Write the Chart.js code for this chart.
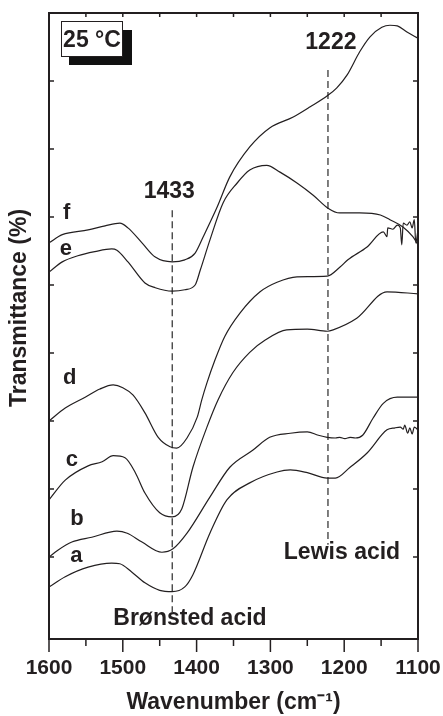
<!DOCTYPE html>
<html>
<head>
<meta charset="utf-8">
<script src="https://cdn.jsdelivr.net/npm/chart.js@4.4.0/dist/chart.umd.min.js"></script>
<style>
html, body { margin: 0; padding: 0; background: #fff; }
canvas { display: block; }
</style>
</head>
<body>
<canvas id="chart" width="443" height="716"></canvas>
<script>
// spectra, [wavenumber, transmittance (arbitrary units, offset per sample)]
var curveA = [[1600,0.56],[1578,0.71],[1547,0.85],[1515,0.91],[1504,0.90],[1488,0.78],[1470,0.62],[1450,0.51],[1433,0.49],[1416,0.56],[1405,0.74],[1382,1.35],[1359,1.84],[1328,2.09],[1291,2.25],[1273,2.28],[1250,2.24],[1223,2.16],[1212,2.16],[1192,2.32],[1169,2.53],[1142,2.87],[1131,2.90],[1124,2.91],[1120,2.88],[1118,2.94],[1114,2.82],[1111,2.90],[1108,2.81],[1105,2.91],[1100,2.87]];
var curveB = [[1600,1.00],[1588,1.10],[1569,1.22],[1542,1.29],[1508,1.38],[1494,1.35],[1474,1.22],[1447,1.07],[1432,1.12],[1413,1.35],[1382,1.88],[1355,2.32],[1324,2.57],[1301,2.76],[1273,2.82],[1250,2.84],[1235,2.79],[1223,2.76],[1212,2.75],[1206,2.76],[1199,2.74],[1192,2.76],[1185,2.75],[1175,2.79],[1161,3.04],[1147,3.26],[1128,3.35],[1100,3.35]];
var curveC = [[1600,1.84],[1578,2.13],[1547,2.34],[1528,2.40],[1513,2.49],[1497,2.46],[1483,2.24],[1470,1.94],[1450,1.65],[1433,1.59],[1420,1.71],[1405,2.32],[1386,2.91],[1371,3.31],[1351,3.71],[1328,4.01],[1307,4.19],[1278,4.34],[1250,4.35],[1223,4.32],[1215,4.34],[1183,4.51],[1142,4.90],[1100,4.87]];
var curveD = [[1600,3.00],[1578,3.19],[1551,3.35],[1531,3.47],[1513,3.53],[1500,3.49],[1486,3.38],[1470,3.12],[1452,2.76],[1436,2.62],[1427,2.60],[1413,2.75],[1399,3.06],[1393,3.31],[1386,3.56],[1375,3.90],[1362,4.24],[1341,4.59],[1314,4.90],[1291,5.04],[1264,5.12],[1223,5.13],[1206,5.26],[1195,5.37],[1169,5.56],[1147,5.78],[1142,5.71],[1141,5.84],[1134,5.82],[1128,5.88],[1124,5.84],[1122,5.59],[1120,5.91],[1115,5.88],[1111,5.93],[1108,5.84],[1105,5.96],[1103,5.62],[1100,5.81]];
var curveE = [[1600,5.19],[1582,5.34],[1561,5.43],[1538,5.49],[1515,5.53],[1508,5.51],[1493,5.34],[1470,5.03],[1456,4.96],[1433,4.91],[1416,4.93],[1402,5.00],[1395,5.22],[1382,5.66],[1364,6.21],[1345,6.50],[1328,6.69],[1305,6.76],[1287,6.66],[1264,6.50],[1242,6.32],[1222,6.13],[1206,6.06],[1179,6.06],[1151,6.03],[1138,5.96],[1120,5.85],[1107,5.71],[1100,5.59]];
var curveF = [[1600,5.62],[1582,5.74],[1547,5.81],[1524,5.87],[1504,5.91],[1493,5.84],[1474,5.62],[1456,5.41],[1433,5.34],[1416,5.37],[1402,5.47],[1391,5.71],[1372,6.15],[1355,6.59],[1328,7.03],[1301,7.31],[1269,7.47],[1246,7.62],[1222,7.79],[1210,7.90],[1196,8.09],[1179,8.43],[1165,8.65],[1149,8.79],[1138,8.82],[1128,8.81],[1115,8.72],[1100,8.63]];

// band markers
var bronstedLine = [[1433,6.10],[1433,0.19]];
var lewisLine = [[1222,8.16],[1222,1.18]];

// labels: text, wavenumber, level
var curveLabels = [['a',1563,1.01],['b',1562,1.56],['c',1569,2.43],['d',1572,3.63],['e',1577,5.53],['f',1576,6.06]];
var notes = [['1433',1437,6.38],['1222',1218,8.56],['Lewis acid',1203,1.06],['Brønsted acid',1409,0.10]];

var ink = '#231f20';
var family = '"Liberation Sans", Arial, sans-serif';

function toXY(points) {
	return points.map(function (p) { return {x: p[0], y: p[1]}; });
}

var datasets = [curveA, curveB, curveC, curveD, curveE, curveF].map(function (c) {
	return {
		data: toXY(c),
		borderColor: ink,
		borderWidth: 1.2,
		pointRadius: 0,
		cubicInterpolationMode: 'monotone',
		fill: false
	};
});
[bronstedLine, lewisLine].forEach(function (l) {
	datasets.push({
		data: toXY(l),
		borderColor: '#3a3a3a',
		borderWidth: 1.3,
		borderDash: [7, 4],
		pointRadius: 0,
		fill: false
	});
});

function stroke(ctx, x1, y1, x2, y2) {
	ctx.beginPath();
	ctx.moveTo(x1, y1);
	ctx.lineTo(x2, y2);
	ctx.stroke();
}

var decor = {
	id: 'decor',
	afterDatasetsDraw: function (chart) {
		var ctx = chart.ctx, a = chart.chartArea;
		var xs = chart.scales.x, ys = chart.scales.y;
		ctx.save();

		// frame
		ctx.strokeStyle = ink;
		ctx.lineWidth = 2;
		ctx.strokeRect(a.left, a.top, a.right - a.left, a.bottom - a.top);

		// tick marks
		ctx.lineWidth = 1.5;
		xs.ticks.forEach(function (t) {
			var px = xs.getPixelForValue(t.value);
			stroke(ctx, px, a.bottom, px, a.bottom + (t.value % 100 === 0 ? 13 : 7));
			stroke(ctx, px, a.top, px, a.top + 4);
		});
		ys.ticks.forEach(function (t) {
			var py = ys.getPixelForValue(t.value);
			stroke(ctx, a.left, py, a.left + 5, py);
			stroke(ctx, a.right, py, a.right - 5, py);
		});

		// texts
		ctx.fillStyle = ink;
		ctx.textAlign = 'center';
		ctx.textBaseline = 'middle';
		ctx.font = 'bold 22px ' + family;
		curveLabels.forEach(function (l) {
			ctx.fillText(l[0], xs.getPixelForValue(l[1]), ys.getPixelForValue(l[2]));
		});
		ctx.font = 'bold 23px ' + family;
		notes.forEach(function (n) {
			ctx.fillText(n[0], xs.getPixelForValue(n[1]), ys.getPixelForValue(n[2]));
		});

		// temperature box
		ctx.fillStyle = '#111';
		ctx.fillRect(a.left + 20, a.top + 17, 63, 35);
		ctx.fillStyle = '#fff';
		ctx.fillRect(a.left + 12, a.top + 8, 62, 36);
		ctx.lineWidth = 1;
		ctx.strokeRect(a.left + 12.5, a.top + 8.5, 61, 35);
		ctx.fillStyle = ink;
		ctx.font = 'bold 23px ' + family;
		ctx.fillText('25 °C', a.left + 43, a.top + 28);

		// y title
		ctx.translate(20, 308);
		ctx.rotate(-Math.PI / 2);
		ctx.font = 'bold 23px ' + family;
		ctx.fillText('Transmittance (%)', 0, 0);

		ctx.restore();
	}
};

var hiddenY = {
	type: 'linear',
	min: -0.206,
	max: 9.0,
	ticks: { display: false, stepSize: 1 },
	grid: { display: false, drawTicks: false },
	border: { display: false },
	afterBuildTicks: function (s) {
		s.ticks = s.ticks.filter(function (t) { return Number.isInteger(t.value); });
	}
};

new Chart(document.getElementById('chart'), {
	type: 'line',
	data: { datasets: datasets },
	options: {
		responsive: false,
		animation: false,
		devicePixelRatio: 1,
		layout: { padding: { top: 13, left: 0, right: 0, bottom: 0 } },
		plugins: { legend: { display: false }, tooltip: { enabled: false } },
		scales: {
			x: {
				type: 'linear',
				position: 'bottom',
				min: 1100,
				max: 1600,
				reverse: true,
				// tick marks are drawn by the decor plugin; this only makes room for them
				grid: { display: true, drawOnChartArea: false, drawTicks: true, tickLength: 17, tickColor: 'rgba(0,0,0,0)' },
				border: { display: false },
				ticks: {
					stepSize: 50,
					autoSkip: false,
					maxRotation: 0,
					padding: 0,
					color: ink,
					font: { family: family, size: 21, weight: 'bold' },
					callback: function (v) { return v % 100 === 0 ? String(v) : ''; }
				},
				title: {
					display: true,
					text: 'Wavenumber (cm⁻¹)',
					color: ink,
					font: { family: family, size: 23, weight: 'bold', lineHeight: 1 },
					padding: { top: 0, bottom: 2 }
				},
				afterFit: function (s) { s.height = 77; }
			},
			y: Object.assign({}, hiddenY, {
				position: 'left',
				afterFit: function (s) { s.width = 49; }
			}),
			y2: Object.assign({}, hiddenY, {
				position: 'right',
				afterFit: function (s) { s.width = 25; }
			})
		}
	},
	plugins: [decor]
});
</script>
</body>
</html>
